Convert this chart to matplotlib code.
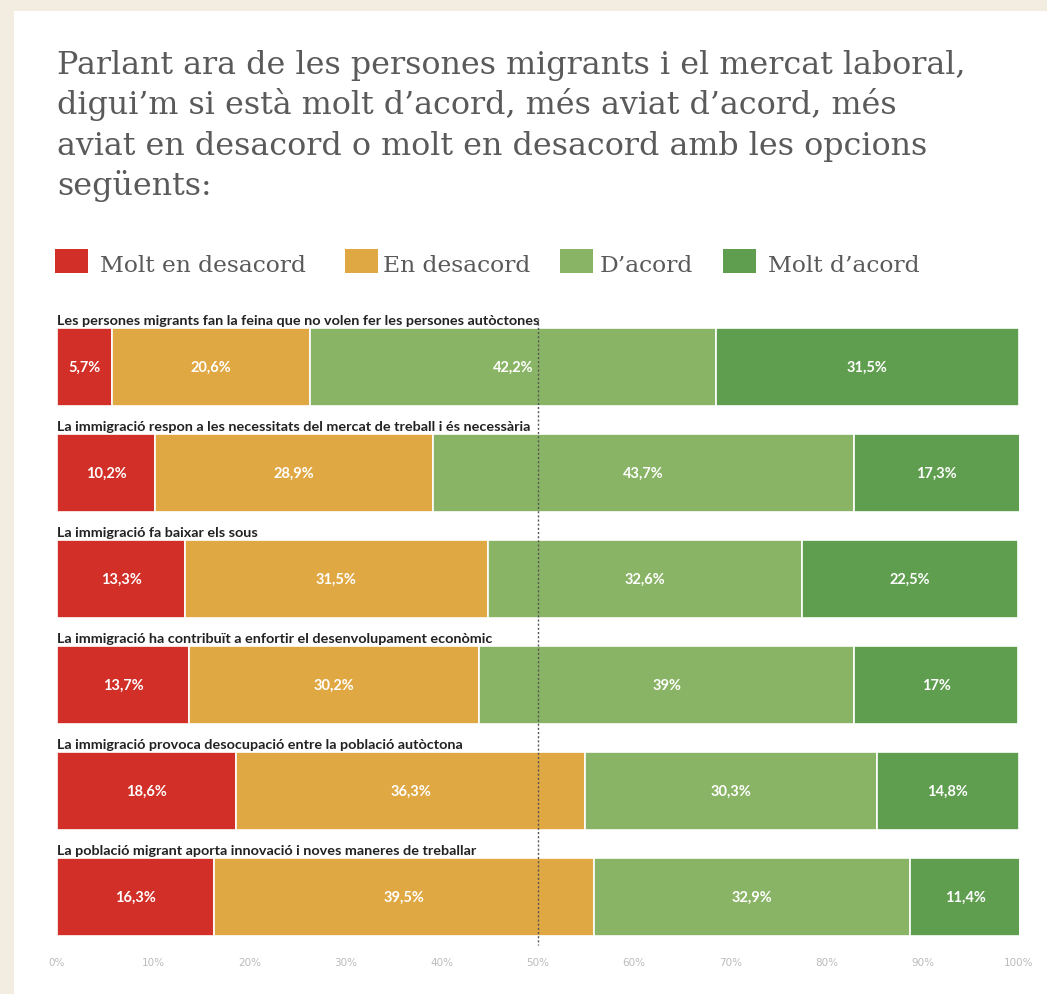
import matplotlib.pyplot as plt
from matplotlib.patches import Rectangle

# dades
preguntes = [
    "Les persones migrants fan la feina que no volen fer les persones autòctones",
    "La immigració respon a les necessitats del mercat de treball i és necessària",
    "La immigració fa baixar els sous",
    "La immigració ha contribuït a enfortir el desenvolupament econòmic",
    "La immigració provoca desocupació entre la població autòctona",
    "La població migrant aporta innovació i noves maneres de treballar",
]
molt_desacord = [5.7, 10.2, 13.3, 13.7, 18.6, 16.3]
desacord = [20.6, 28.9, 31.5, 30.2, 36.3, 39.5]
acord = [42.2, 43.7, 32.6, 39.0, 30.3, 32.9]
molt_acord = [31.5, 17.3, 22.5, 17.0, 14.8, 11.4]
etiquetes = [
    ["5,7%", "20,6%", "42,2%", "31,5%"],
    ["10,2%", "28,9%", "43,7%", "17,3%"],
    ["13,3%", "31,5%", "32,6%", "22,5%"],
    ["13,7%", "30,2%", "39%", "17%"],
    ["18,6%", "36,3%", "30,3%", "14,8%"],
    ["16,3%", "39,5%", "32,9%", "11,4%"],
]
categories = ["Molt en desacord", "En desacord", "D\u2019acord", "Molt d\u2019acord"]
colors = ["#d12f27", "#e0a843", "#8ab465", "#5f9e4f"]
ticks = list(range(0, 101, 10))

W, H = 1047, 995
fig = plt.figure(figsize=(W / 100, H / 100), dpi=100)
fig.patch.set_facecolor("#f3ede1")

def fx(px):
    return px / W

def fy(py):
    return 1 - py / H

# panell blanc
fig.add_artist(Rectangle((fx(14), 0), 1 - fx(14), fy(12), transform=fig.transFigure,
                         facecolor="white", edgecolor="none", zorder=0))

# titol
titol = ["Parlant ara de les persones migrants i el mercat laboral,",
         "digui\u2019m si està molt d\u2019acord, més aviat d\u2019acord, més",
         "aviat en desacord o molt en desacord amb les opcions",
         "següents:"]
for i, linia in enumerate(titol):
    fig.text(fx(57), fy(74 + 40.4 * i), linia, fontsize=22.9, family="DejaVu Serif",
             color="#5a5a5a", va="baseline", ha="left")

# llegenda
leg_sq = [55, 345, 560, 723]
leg_tx = [100, 383, 600, 768]
for sx, tx, lab, c in zip(leg_sq, leg_tx, categories, colors):
    fig.add_artist(Rectangle((fx(sx), fy(274)), fx(33), 24 / H, transform=fig.transFigure,
                             facecolor=c, edgecolor="none"))
    fig.text(fx(tx), fy(272), lab, fontsize=16.8, family="DejaVu Serif",
             color="#5a5a5a", va="baseline", ha="left")

# barres
ax = fig.add_axes([fx(57), fy(980), fx(1019) - fx(57), (980 - 300) / H])
ax.set_xlim(0, 100)
ax.set_ylim((980 - 368) / 106, (300 - 368) / 106)
ax.axis("off")

series = [molt_desacord, desacord, acord, molt_acord]
y = list(range(len(preguntes)))
left = [0] * len(preguntes)
for k, (vals, c) in enumerate(zip(series, colors)):
    ax.barh(y, vals, left=left, height=0.735, color=c, edgecolor="white", linewidth=1.2)
    for i, v in enumerate(vals):
        ax.text(left[i] + v / 2, i, etiquetes[i][k], ha="center", va="center",
                color="white", fontsize=10.5, family="Lato", fontweight="bold")
    left = [l + v for l, v in zip(left, vals)]

for i, q in enumerate(preguntes):
    ax.text(0, i - 0.41, q, ha="left", va="baseline", fontsize=10.4,
            family="Lato", fontweight="bold", color="#222222")

ax.plot([50, 50], [-0.45, 5.45], color="#555555", linewidth=1, linestyle=(0, (1.5, 1.5)))

for t in ticks:
    ax.text(t, (963 - 368) / 106, f"{t}%", ha="center", va="center",
            fontsize=7.5, color="#bbbbbb", family="Liberation Sans Narrow")

fig.savefig("out.png", dpi=100, facecolor=fig.get_facecolor())
